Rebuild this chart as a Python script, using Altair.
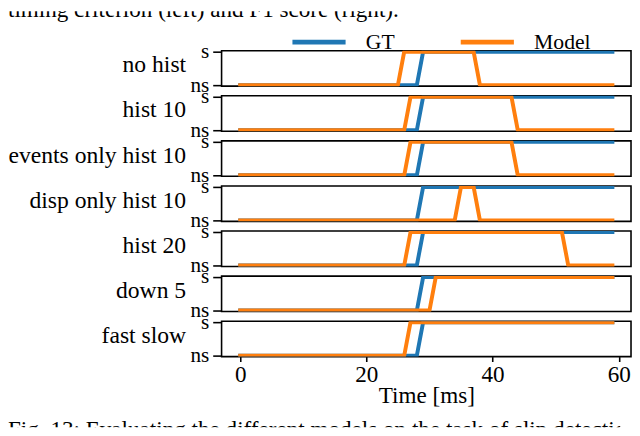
import altair as alt
import pandas as pd

FONT = "Liberation Serif"

caption_top = "timing criterion (left) and F1 score (right)."
caption_bottom = "Fig. 13: Evaluating the different models on the task of slip detection"

row_labels = ["no hist", "hist 10", "events only hist 10", "disp only hist 10",
              "hist 20", "down 5", "fast slow"]

series_names = ["GT", "Model"]
series_colors = ["#1f77b4", "#ff7f0e"]
x_ticks = [0, 20, 40, 60]

# ground truth vertices (time in ms, state 0 = ns, 1 = s)
gt_t = [0, 28, 29, 59]
gt_v = [0, 0, 1, 1]

# model vertices per row
model_t = [
    [0, 25, 26, 37, 38, 59],
    [0, 26, 27, 43, 44, 59],
    [0, 26, 27, 43, 44, 59],
    [0, 34, 35, 37, 38, 59],
    [0, 26, 27, 51, 52, 59],
    [0, 30, 31, 59],
    [0, 26, 27, 59],
]
model_v = [
    [0, 0, 1, 1, 0, 0],
    [0, 0, 1, 1, 0, 0],
    [0, 0, 1, 1, 0, 0],
    [0, 0, 1, 1, 0, 0],
    [0, 0, 1, 1, 0, 0],
    [0, 0, 1, 1],
    [0, 0, 1, 1],
]

W, H = 416, 36
LW = 181
ROW_GAP = 9.8
xscale = alt.Scale(domain=[-2.95, 61.95], nice=False, zero=False)
yscale = alt.Scale(domain=[-0.03, 1.03], nice=False, zero=False)
cscale = alt.Scale(domain=series_names, range=series_colors)

legend = alt.Legend(orient="none", legendX=286.5, legendY=1.5, direction="horizontal",
                    title=None, symbolType="stroke", symbolSize=2916,
                    symbolStrokeWidth=5, labelFont=FONT, labelFontSize=22,
                    labelColor="black", labelOffset=18, columnPadding=56, padding=0)


def panel(i, last):
    df = pd.DataFrame({
        "t": gt_t + model_t[i],
        "v": gt_v + model_v[i],
        "series": ["GT"] * len(gt_t) + ["Model"] * len(model_t[i]),
    })
    if last:
        xaxis = alt.Axis(values=x_ticks, format="d", title="Time [ms]", grid=False,
                         domain=False, tickSize=5, tickWidth=1.6, tickColor="black",
                         labelPadding=1.5, labelFontSize=23.5, labelFont=FONT,
                         labelColor="black", labelFlush=False, titleFont=FONT,
                         titleFontSize=23.5, titleFontWeight="normal",
                         titleColor="black", titleBaseline="alphabetic", titleY=47)
    else:
        xaxis = None
    yaxis = alt.Axis(values=[0, 1], labelExpr="datum.value == 1 ? 's' : 'ns'",
                     grid=False, domain=False, tickSize=9, tickWidth=1.6,
                     tickColor="black", labelPadding=4, labelFontSize=21.5,
                     labelFont=FONT, labelColor="black", labelBaseline="middle",
                     labelOverlap=False, title=None)
    return alt.Chart(df).mark_line(
        clip=True, strokeWidth=4, strokeCap="square", strokeJoin="round"
    ).encode(
        x=alt.X("t:Q", scale=xscale, axis=xaxis),
        y=alt.Y("v:Q", scale=yscale, axis=yaxis),
        color=alt.Color("series:N", scale=cscale, legend=legend),
    ).properties(width=W, height=H,
                 view=alt.ViewBackground(stroke="black", strokeWidth=1.6))


def label_panel(i):
    return alt.Chart(pd.DataFrame({"label": [row_labels[i]]})).mark_text(
        align="right", baseline="alphabetic", font=FONT, fontSize=24, color="black"
    ).encode(x=alt.value(LW), y=alt.value(22), text="label:N").properties(
        width=LW, height=H)


plots_col = alt.vconcat(*[panel(i, i == len(row_labels) - 1)
                          for i in range(len(row_labels))],
                        spacing=ROW_GAP, bounds="flush")
labels_col = alt.vconcat(*[label_panel(i) for i in range(len(row_labels))],
                         spacing=ROW_GAP, bounds="flush")
body = alt.hconcat(labels_col, plots_col, spacing=3)


def caption(text, h, y):
    return alt.Chart(pd.DataFrame({"text": [text]})).mark_text(
        align="left", baseline="alphabetic", font=FONT, fontSize=23.5,
        color="black", clip=True
    ).encode(x=alt.value(0), y=alt.value(y), text="text:N").properties(
        width=622, height=h)


chart = alt.vconcat(
    caption(caption_top, 23, 6), body, caption(caption_bottom, 12.5, 22.5),
    spacing=6
).properties(padding=0).configure_view(strokeWidth=0)

chart.save("out.html", embed_options={"renderer": "svg", "actions": False})
